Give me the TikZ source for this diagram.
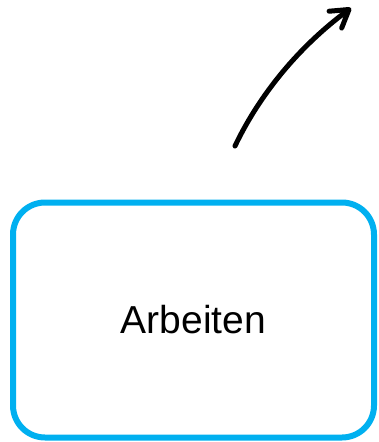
\documentclass[tikz,border=0pt]{standalone}
\usepackage{fontspec}
\setmainfont{Liberation Sans}
\usetikzlibrary{arrows.meta}
\definecolor{boxblue}{HTML}{00B0F0}
\begin{document}
\begin{tikzpicture}[x=1pt,y=-1pt,
  statebox/.style={draw=boxblue,line width=6pt,rounded corners=32pt,minimum width=361pt,minimum height=235pt,inner sep=0pt,font=\fontsize{39}{44}\selectfont},
  flow/.style={line width=5pt,line cap=round,-{Straight Barb[length=17pt,width=21pt,round]}}]
\useasboundingbox (0,0) rectangle (379,442);
\node[statebox] (work) at (193.5,320) {Arbeiten};
\coordinate (tail) at (235,146);
\coordinate (head) at (351,8);
\draw[flow] (tail) .. controls (256,102) and (292,52) .. (head);
\end{tikzpicture}
\end{document}
